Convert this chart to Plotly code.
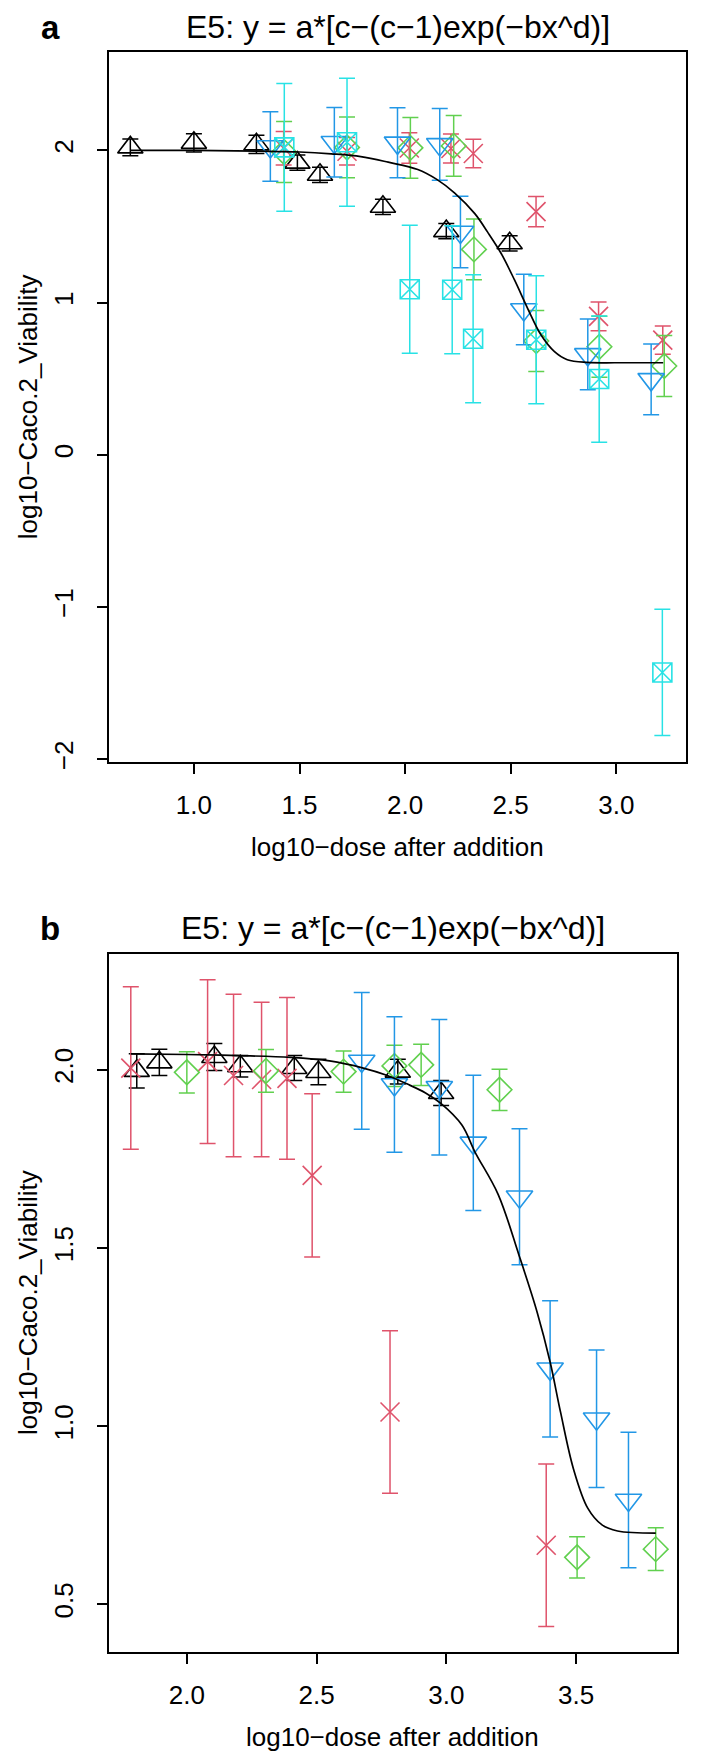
import plotly.graph_objects as go

W, H = 708, 1756

# ---------------- Panel a data ----------------
A_BLACK_X = [0.699, 1.0, 1.296, 1.49, 1.597, 1.895, 2.195, 2.495]
A_BLACK_Y = [2.02, 2.05, 2.04, 1.92, 1.84, 1.63, 1.47, 1.39]
A_BLACK_E = [0.055, 0.06, 0.06, 0.05, 0.05, 0.05, 0.05, 0.05]

A_RED_X = [1.425, 1.725, 2.02, 2.217, 2.323, 2.62, 2.916, 3.22]
A_RED_Y = [2.015, 1.995, 2.016, 2.013, 1.98, 1.598, 0.91, 0.754]
A_RED_E = [0.11, 0.09, 0.1, 0.095, 0.093, 0.1, 0.095, 0.093]

A_GREEN_X = [1.427, 1.725, 2.025, 2.23, 2.326, 2.621, 2.92, 3.227]
A_GREEN_Y = [1.99, 2.02, 2.017, 2.03, 1.35, 0.748, 0.71, 0.584]
A_GREEN_E = [0.2, 0.2, 0.2, 0.2, 0.2, 0.2, 0.2, 0.2]

A_BLUE_X = [1.362, 1.665, 1.964, 2.164, 2.262, 2.562, 2.865, 3.165]
A_BLUE_Y = [2.026, 2.054, 2.05, 2.04, 1.464, 0.955, 0.66, 0.496]
A_BLUE_E = [0.229, 0.229, 0.23, 0.235, 0.235, 0.232, 0.232, 0.232]

A_CYAN_X = [1.428, 1.725, 2.022, 2.223, 2.322, 2.621, 2.919, 3.218]
A_CYAN_Y = [2.02, 2.054, 1.088, 1.085, 0.763, 0.756, 0.498, -1.43]
A_CYAN_E = [0.42, 0.42, 0.42, 0.42, 0.42, 0.42, 0.415, 0.415]

A_CURVE_X = [0.699, 1.0, 1.3, 1.5, 1.65, 1.79, 1.92, 2.06, 2.15, 2.235, 2.33,
             2.39, 2.455, 2.518, 2.58, 2.643, 2.706, 2.768, 2.863, 3.0, 3.222]
A_CURVE_Y = [2.0, 2.0, 1.995, 1.99, 1.978, 1.96, 1.923, 1.875, 1.81, 1.72, 1.585,
             1.465, 1.323, 1.149, 0.963, 0.789, 0.68, 0.625, 0.607, 0.605, 0.605]

A_XTICKS = [1.0, 1.5, 2.0, 2.5, 3.0]
A_XTICKTEXT = ["1.0", "1.5", "2.0", "2.5", "3.0"]
A_YTICKS = [-2, -1, 0, 1, 2]
A_YTICKTEXT = ["\u22122", "\u22121", "0", "1", "2"]

# ---------------- Panel b data ----------------
B_BLACK_X = [1.807, 1.894, 2.106, 2.206, 2.414, 2.507, 2.813, 2.98]
B_BLACK_Y = [1.997, 2.021, 2.036, 2.01, 2.005, 1.994, 1.995, 1.935]
B_BLACK_E = [0.048, 0.037, 0.038, 0.03, 0.035, 0.036, 0.035, 0.035]

B_RED_X = [1.784, 2.08, 2.18, 2.288, 2.386, 2.483, 2.783, 3.385]
B_RED_Y = [2.005, 2.023, 1.984, 1.973, 1.976, 1.704, 1.04, 0.666]
B_RED_E = [0.228, 0.23, 0.228, 0.217, 0.227, 0.229, 0.228, 0.228]

B_GREEN_X = [2.0, 2.305, 2.604, 2.80, 2.903, 3.205, 3.504, 3.807]
B_GREEN_Y = [1.993, 1.997, 1.995, 2.011, 2.014, 1.944, 0.632, 0.655]
B_GREEN_E = [0.058, 0.06, 0.058, 0.058, 0.058, 0.058, 0.058, 0.06]

B_BLUE_X = [2.674, 2.80, 2.973, 3.104, 3.282, 3.40, 3.579, 3.702]
B_BLUE_Y = [2.025, 1.959, 1.951, 1.795, 1.644, 1.161, 1.021, 0.793]
B_BLUE_E = [0.192, 0.19, 0.19, 0.19, 0.191, 0.191, 0.193, 0.19]

B_CURVE_X = [1.784, 2.0, 2.2, 2.4, 2.55, 2.68, 2.77, 2.85, 2.92, 2.98, 3.06, 3.11,
             3.2, 3.28, 3.35, 3.40, 3.44, 3.49, 3.545, 3.6, 3.66, 3.807]
B_CURVE_Y = [2.045, 2.043, 2.04, 2.035, 2.025, 2.005, 1.985, 1.96, 1.935, 1.905, 1.845, 1.77,
             1.65, 1.48, 1.32, 1.18, 1.04, 0.88, 0.77, 0.723, 0.706, 0.70]

B_XTICKS = [2.0, 2.5, 3.0, 3.5]
B_XTICKTEXT = ["2.0", "2.5", "3.0", "3.5"]
B_YTICKS = [0.5, 1.0, 1.5, 2.0]
B_YTICKTEXT = ["0.5", "1.0", "1.5", "2.0"]

TITLE = "E5: y = a*[c\u2212(c\u22121)exp(\u2212bx^d)]"
XLABEL = "log10\u2212dose after addition"
YLABEL = "log10\u2212Caco.2_Viability"

# ---------------- styles ----------------
FONT = "Liberation Sans, Arial, sans-serif"
COL = {"black": "#000000", "red": "#DF536B", "green": "#61D04F",
       "blue": "#2297E6", "cyan": "#28E2E5"}
SYM = {"black": ("triangle-up-open", 22), "red": ("x-thin-open", 19),
       "green": ("diamond-open", 19), "blue": ("triangle-down-open", 23),
       "cyan": ("square-x-open", 19)}

fig = go.Figure()


def add_series(x, y, e, key, xa, ya):
    sym, size = SYM[key]
    fig.add_trace(go.Scatter(
        x=x, y=y, mode="markers", xaxis=xa, yaxis=ya, showlegend=False,
        marker=dict(symbol=sym, size=size, color=COL[key],
                    line=dict(color=COL[key], width=1.6)),
        error_y=dict(type="data", array=e, symmetric=True, color=COL[key],
                     thickness=1.5, width=8),
    ))


def add_curve(x, y, xa, ya):
    fig.add_trace(go.Scatter(
        x=x, y=y, mode="lines", xaxis=xa, yaxis=ya, showlegend=False,
        line=dict(color="black", width=1.7, shape="spline", smoothing=1.0),
    ))


add_series(A_BLACK_X, A_BLACK_Y, A_BLACK_E, "black", "x", "y")
add_series(A_RED_X, A_RED_Y, A_RED_E, "red", "x", "y")
add_series(A_GREEN_X, A_GREEN_Y, A_GREEN_E, "green", "x", "y")
add_series(A_BLUE_X, A_BLUE_Y, A_BLUE_E, "blue", "x", "y")
add_series(A_CYAN_X, A_CYAN_Y, A_CYAN_E, "cyan", "x", "y")
add_curve(A_CURVE_X, A_CURVE_Y, "x", "y")

add_series(B_BLACK_X, B_BLACK_Y, B_BLACK_E, "black", "x2", "y2")
add_series(B_RED_X, B_RED_Y, B_RED_E, "red", "x2", "y2")
add_series(B_GREEN_X, B_GREEN_Y, B_GREEN_E, "green", "x2", "y2")
add_series(B_BLUE_X, B_BLUE_Y, B_BLUE_E, "blue", "x2", "y2")
add_curve(B_CURVE_X, B_CURVE_Y, "x2", "y2")

# panel boxes in pixels (left, right, top, bottom)
A_BOX = (101, 678, 44.5, 757.7)
B_BOX = (101, 669, 950, 1652)


def px(x):
    return x / W


def py(y):
    return 1 - y / H


axis_common = dict(showgrid=False, zeroline=False, showline=True, mirror=True,
                   linecolor="black", linewidth=1.5, ticks="outside", ticklen=10,
                   tickwidth=1.5, tickcolor="black",
                   tickfont=dict(family=FONT, size=26, color="#000000"))

fig.update_layout(
    width=W, height=H, margin=dict(l=0, r=0, t=0, b=0),
    paper_bgcolor="white", plot_bgcolor="white", showlegend=False,
    xaxis=dict(domain=[px(A_BOX[0]), px(A_BOX[1])], range=[0.598, 3.33],
               tickvals=A_XTICKS, ticktext=A_XTICKTEXT, anchor="y",
               ticklabelstandoff=9, **axis_common),
    yaxis=dict(domain=[py(A_BOX[3]), py(A_BOX[2])], range=[-2.02, 2.645],
               tickvals=A_YTICKS, ticktext=A_YTICKTEXT, anchor="x", tickangle=-90,
               ticklabelstandoff=14, **axis_common),
    xaxis2=dict(domain=[px(B_BOX[0]), px(B_BOX[1])], range=[1.70, 3.889],
                tickvals=B_XTICKS, ticktext=B_XTICKTEXT, anchor="y2",
                ticklabelstandoff=9, **axis_common),
    yaxis2=dict(domain=[py(B_BOX[3]), py(B_BOX[2])], range=[0.365, 2.326],
                tickvals=B_YTICKS, ticktext=B_YTICKTEXT, anchor="x2", tickangle=-90,
                ticklabelstandoff=14, **axis_common),
)

ann = []


def text(x, y, s, size, bold=False, angle=0, yanchor="middle"):
    ann.append(dict(x=px(x), y=py(y), xref="paper", yref="paper", showarrow=False,
                    text=("<b>%s</b>" % s) if bold else s, textangle=angle,
                    xanchor="center", yanchor=yanchor, borderpad=0,
                    font=dict(family=FONT, size=size, color="#000000")))


for box, lab in ((A_BOX, "a"), (B_BOX, "b")):
    cx = (box[0] + box[1]) / 2
    cy = (box[2] + box[3]) / 2
    top = box[2] - 44.5
    text(cx, top, TITLE, 32, yanchor="top")
    text(42, top, lab, 33, bold=True, yanchor="top")
    text(cx, box[3] + 85, XLABEL, 26)
    text(20, cy, YLABEL, 26, angle=-90)

fig.update_layout(annotations=ann)

fig.write_html("out.html")
